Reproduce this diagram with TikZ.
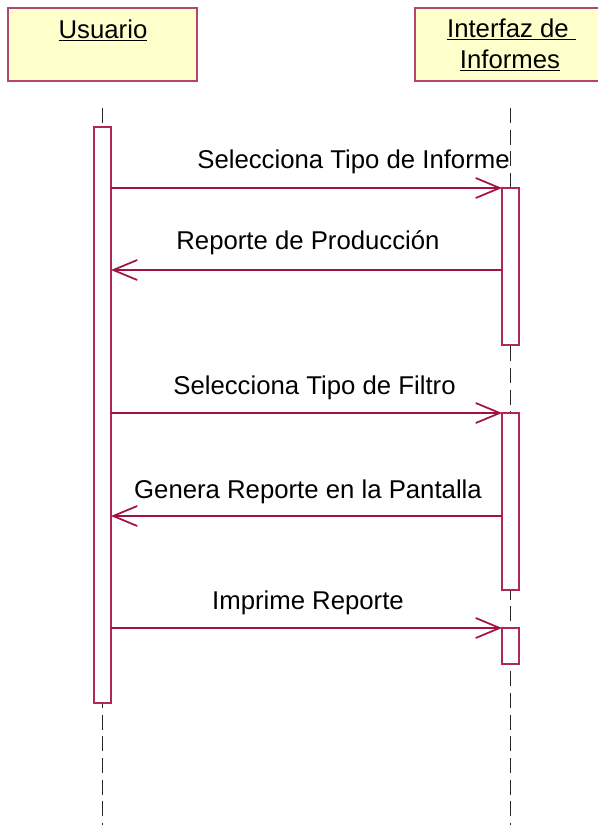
\documentclass[tikz,border=0pt]{standalone}
\usepackage{fontspec}
\setmainfont{Liberation Sans}
\usetikzlibrary{arrows.meta}
\definecolor{msgc}{RGB}{163,18,68}
\definecolor{boxb}{RGB}{180,70,110}
\definecolor{boxf}{RGB}{255,255,204}
\definecolor{barb}{RGB}{175,40,90}
\tikzset{
  objbox/.style={draw=boxb, fill=boxf, line width=1.1pt},
  lifeline/.style={draw=black!85, line width=0.9pt, dash pattern=on 11.25pt off 5pt},
  actbar/.style={draw=barb, fill=white, line width=0.9pt, minimum width=12.75pt, inner sep=0pt, outer sep=0pt},
  msg/.style={draw=msgc, line width=0.8pt, -{Straight Barb[length=18pt, width=15pt, line width=1.3pt]}},
  lbl/.style={font=\fontsize{19.3}{23}\selectfont, anchor=base, inner sep=0pt, text=black},
}
\begin{document}
\begin{tikzpicture}[x=0.75pt, y=-0.75pt]
\useasboundingbox (0,0) rectangle (598,825);
\begin{scope}
\clip (0,0) rectangle (598,825);
% object boxes
\draw[objbox] (8,8) rectangle (197,81);
\draw[objbox] (415,8) rectangle (604,81);
\node[lbl] (usuario) at (103,38) {\underline{Usuario}};
\node[lbl] (interfaz1) at (511.5,37) {\underline{Interfaz de\ }};
\node[lbl] (interfaz2) at (510,68) {\underline{Informes}};
% lifelines
\coordinate (ut) at (102.5,108);
\coordinate (ub) at (102.5,830);
\coordinate (it) at (510.5,108);
\coordinate (ib) at (510.5,830);
\draw[lifeline] (ut) -- (ub);
\draw[lifeline] (it) -- (ib);
% activation bars
\node[actbar, minimum height=432pt] (u) at (102.5,415) {};
\node[actbar, minimum height=117.75pt] (i1) at (510.5,266.5) {};
\node[actbar, minimum height=132.75pt] (i2) at (510.5,501.5) {};
\node[actbar, minimum height=27pt] (i3) at (510.5,646) {};
% messages
\draw[msg] (u.east |- i1.north west) -- (i1.north west);
\node[lbl] (l1) at (353.5,168) {Selecciona Tipo de Informe};
\coordinate (r1) at (i1.west |- 0,270);
\draw[msg] (r1) -- (u.east |- r1);
\node[lbl] (l2) at (308,249) {Reporte de Producción};
\draw[msg] (u.east |- i2.north west) -- (i2.north west);
\node[lbl] (l3) at (314.5,394) {Selecciona Tipo de Filtro};
\coordinate (r2) at (i2.west |- 0,516);
\draw[msg] (r2) -- (u.east |- r2);
\node[lbl] (l4) at (308,498) {Genera Reporte en la Pantalla};
\draw[msg] (u.east |- i3.north west) -- (i3.north west);
\node[lbl] (l5) at (308,609) {Imprime Reporte};
\end{scope}
\end{tikzpicture}
\end{document}
